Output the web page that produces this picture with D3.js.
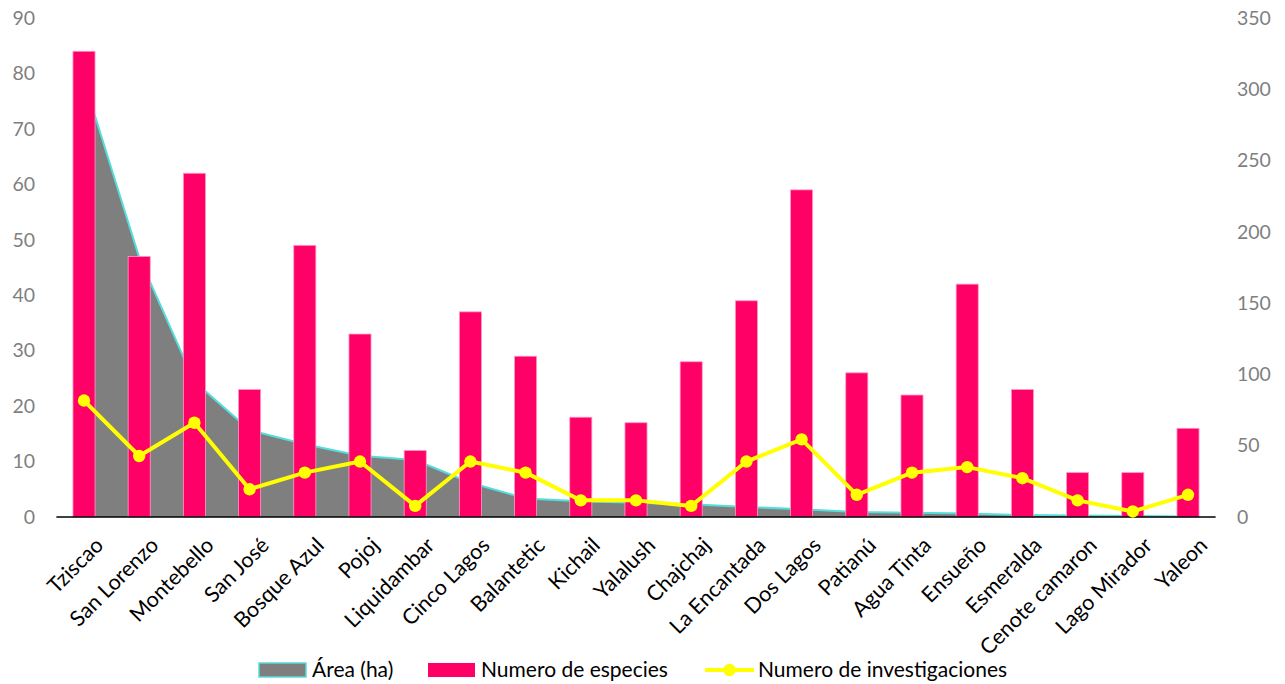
<!DOCTYPE html>
<html>
<head>
<meta charset="utf-8">
<script src="https://cdn.jsdelivr.net/npm/d3@7"></script>
<style>
  html, body { margin: 0; padding: 0; background: #fff; }
  svg { display: block; font-family: Lato, "Noto Sans", sans-serif; }
</style>
</head>
<body>
<svg id="chart" width="1285" height="684"></svg>
<script>
// Lagos: categories and the three series
const lagos = ["Tziscao", "San Lorenzo", "Montebello", "San José", "Bosque Azul", "Pojoj",
  "Liquidambar", "Cinco Lagos", "Balantetic", "Kichail", "Yalalush", "Chajchaj",
  "La Encantada", "Dos Lagos", "Patianú", "Agua Tinta", "Ensueño", "Esmeralda",
  "Cenote camaron", "Lago Mirador", "Yaleon"];
const especies = [84, 47, 62, 23, 49, 33, 12, 37, 29, 18, 17, 28, 39, 59, 26, 22, 42, 23, 8, 8, 16];
const investigaciones = [21, 11, 17, 5, 8, 10, 2, 10, 8, 3, 3, 2, 10, 14, 4, 8, 9, 7, 3, 1, 4];
const areaHa = [306, 182, 95, 61, 51, 43, 40, 24, 13, 11, 10, 9, 7, 5.5, 3.5, 3, 2.4, 1.4, 1, 0.7, 0.3];

const leftTicks = [0, 10, 20, 30, 40, 50, 60, 70, 80, 90];
const rightTicks = [0, 50, 100, 150, 200, 250, 300, 350];
const seriesNames = ["Área (ha)", "Numero de especies", "Numero de investigaciones"];

const svg = d3.select("#chart");
const plot = { left: 56.4, right: 1215.6, top: 18, bottom: 517 };

const x = d3.scalePoint().domain(lagos).range([plot.left, plot.right]).padding(0.5);
const step = x.step();
const yL = d3.scaleLinear().domain([0, 90]).range([plot.bottom, plot.top]);
const yR = d3.scaleLinear().domain([0, 350]).range([plot.bottom, plot.top]);

const COL_AREA = "#7f7f7f", COL_AREA_EDGE = "#55dcdc";
const COL_BAR = "#ff0066", COL_LINE = "#ffff00";

// area (secondary axis)
const areaGen = d3.area().x((d, i) => x(lagos[i])).y0(yR(0)).y1(d => yR(d));
svg.append("path").attr("d", areaGen(areaHa)).attr("fill", COL_AREA);
svg.append("path")
  .attr("d", d3.line().x((d, i) => x(lagos[i])).y(d => yR(d))(areaHa))
  .attr("fill", "none").attr("stroke", COL_AREA_EDGE).attr("stroke-width", 2);

// bars (primary axis)
const bw = step * 0.4;
svg.append("g").selectAll("rect").data(especies).join("rect")
  .attr("x", (d, i) => x(lagos[i]) - bw / 2)
  .attr("y", d => yL(d))
  .attr("width", bw)
  .attr("height", d => yL(0) - yL(d))
  .attr("fill", COL_BAR)
  .attr("stroke", "#ff9cc2").attr("stroke-width", 0.8);

// category axis line
svg.append("line")
  .attr("x1", plot.left).attr("x2", plot.right)
  .attr("y1", plot.bottom).attr("y2", plot.bottom)
  .attr("stroke", "#000").attr("stroke-width", 1.5);

// line with markers (primary axis)
svg.append("path")
  .attr("d", d3.line().x((d, i) => x(lagos[i])).y(d => yL(d))(investigaciones))
  .attr("fill", "none").attr("stroke", COL_LINE).attr("stroke-width", 4)
  .attr("stroke-linejoin", "round");
svg.append("g").selectAll("circle").data(investigaciones).join("circle")
  .attr("cx", (d, i) => x(lagos[i])).attr("cy", d => yL(d)).attr("r", 6.2)
  .attr("fill", COL_LINE);

// value axes
const tickFont = 19.5;
const textFont = 21;
const catFont = 21.5;
const gL = svg.append("g").attr("transform", `translate(35,0)`)
  .call(d3.axisLeft(yL).tickValues(leftTicks).tickSize(0).tickPadding(0));
const gR = svg.append("g").attr("transform", `translate(1237,0)`)
  .call(d3.axisRight(yR).tickValues(rightTicks).tickSize(0).tickPadding(0));
[gL, gR].forEach(g => {
  g.select(".domain").remove();
  g.selectAll("text").attr("fill", "#7f7f7f").style("font-size", tickFont + "px")
    .style("font-family", "Lato, 'Noto Sans', sans-serif");
});

// category labels, rotated
svg.append("g").selectAll("text").data(lagos).join("text")
  .attr("transform", d => `translate(${x(d) + 10},${plot.bottom + 19}) rotate(-45)`)
  .attr("text-anchor", "end")
  .attr("dy", "0.7em")
  .style("font-size", catFont + "px")
  .attr("fill", "#000")
  .text(d => d);

// legend
const lg = svg.append("g").attr("transform", "translate(0,670)");
lg.append("rect").attr("x", 259).attr("y", -7).attr("width", 47).attr("height", 14)
  .attr("fill", COL_AREA).attr("stroke", COL_AREA_EDGE).attr("stroke-width", 1.5);
lg.append("text").attr("x", 312).attr("dy", "0.35em").style("font-size", textFont + "px").text(seriesNames[0]);
lg.append("rect").attr("x", 428).attr("y", -7).attr("width", 47).attr("height", 14)
  .attr("fill", COL_BAR);
lg.append("text").attr("x", 481).attr("dy", "0.35em").style("font-size", textFont + "px").text(seriesNames[1]);
lg.append("line").attr("x1", 705).attr("x2", 754).attr("y1", 0).attr("y2", 0)
  .attr("stroke", COL_LINE).attr("stroke-width", 4);
lg.append("circle").attr("cx", 729.5).attr("cy", 0).attr("r", 6.2).attr("fill", COL_LINE);
lg.append("text").attr("x", 758).attr("dy", "0.35em").style("font-size", textFont + "px").text(seriesNames[2]);
</script>
</body>
</html>
